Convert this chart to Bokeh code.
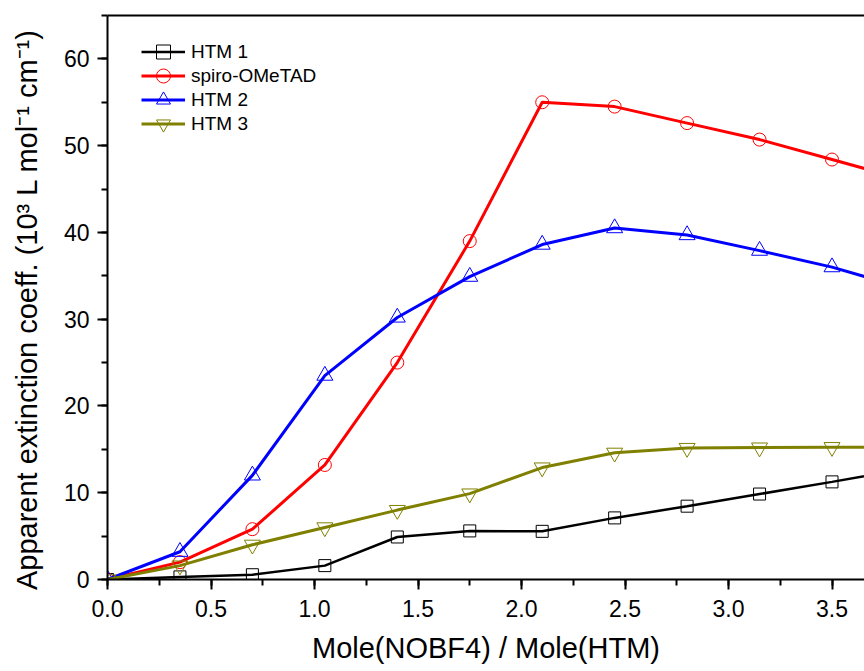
from bokeh.plotting import figure
from bokeh.models import (Range1d, LinearAxis, SingleIntervalTicker, NumeralTickFormatter,
                          FixedTicker, Legend, LegendItem)
from bokeh.embed import file_html
from bokeh.resources import INLINE

# ---- data ----
ratio = [0.0, 0.35, 0.70, 1.05, 1.40, 1.75, 2.10, 2.45, 2.80, 3.15, 3.50, 3.85]
htm1 = [0.0, 0.3, 0.55, 1.6, 4.9, 5.6, 5.55, 7.1, 8.45, 9.85, 11.25, 12.7]
spiro = [0.0, 2.0, 5.8, 13.2, 25.0, 39.0, 55.0, 54.5, 52.6, 50.7, 48.4, 46.1]
htm2 = [0.0, 3.2, 12.0, 23.5, 30.2, 34.9, 38.6, 40.5, 39.7, 37.9, 36.0, 33.6]
htm3 = [0.0, 1.6, 4.0, 6.0, 8.0, 9.9, 12.9, 14.6, 15.15, 15.2, 15.25, 15.2]
series_names = ["HTM 1", "spiro-OMeTAD", "HTM 2", "HTM 3"]
x_label = "Mole(NOBF4) / Mole(HTM)"
y_label = "Apparent extinction coeff. (10\u00b3 L mol\u207b\u00b9 cm\u207b\u00b9)"

FONT = "Liberation Sans"

p = figure(width=864, height=671, output_backend="svg", toolbar_location=None,
           x_range=Range1d(0, 3.657), y_range=Range1d(0, 65),
           min_border_left=107, min_border_right=0, min_border_top=15, min_border_bottom=92,
           x_axis_location=None, y_axis_location=None)
p.outline_line_color = None
p.xgrid.visible = False
p.ygrid.visible = False
p.background_fill_color = "white"
p.border_fill_color = "white"

xt = SingleIntervalTicker(interval=0.5, num_minor_ticks=2)
yt = SingleIntervalTicker(interval=10, num_minor_ticks=2)

def style(ax):
    ax.axis_line_width = 2
    ax.axis_line_color = "black"
    ax.major_tick_line_width = 2
    ax.minor_tick_line_width = 2
    ax.major_tick_line_color = "black"
    ax.minor_tick_line_color = "black"
    ax.major_label_text_font = FONT
    ax.major_label_text_font_size = "23px"
    ax.major_label_text_color = "black"
    ax.axis_label_text_font = FONT
    ax.axis_label_text_font_size = "29px"
    ax.axis_label_text_font_style = "normal"
    ax.axis_label_text_color = "black"

xa = LinearAxis(ticker=xt, formatter=NumeralTickFormatter(format="0.0"), axis_label=x_label)
style(xa)
xa.major_tick_out = 10
xa.major_tick_in = 0
xa.minor_tick_out = 6
xa.minor_tick_in = 0
xa.major_label_standoff = 10
xa.axis_label_standoff = 12
p.add_layout(xa, "below")

# trailing no-break spaces shift the (rotated) label down a little, as in the reference
ya = LinearAxis(ticker=yt, axis_label=y_label + "\u00a0" * 3)
style(ya)
ya.major_tick_out = 10
ya.major_tick_in = 0
ya.minor_tick_out = 6
ya.minor_tick_in = 0
ya.major_label_standoff = 8
ya.axis_label_standoff = 18
p.add_layout(ya, "left")

# top frame line (no ticks, no labels)
top = LinearAxis(ticker=FixedTicker(ticks=[]))
top.axis_line_width = 2
top.axis_line_color = "black"
top.major_tick_out = 0
top.major_tick_in = 0
top.minor_tick_out = 0
top.minor_tick_in = 0
top.major_label_standoff = 0
p.add_layout(top, "above")

colors = ["black", "#FF0000", "#0000FF", "#808000"]
markers = ["square", "circle", "triangle", "inverted_triangle"]
sizes = [12, 13, 16, 16]
widths = [2.5, 3, 3, 3]
ys = [htm1, spiro, htm2, htm3]

legend_rows_y = [510, 486, 462, 438]  # screen offsets of each legend row box
for name, yv, c, m, s, w, ly in zip(series_names, ys, colors, markers, sizes, widths, legend_rows_y):
    ln = p.line(ratio, yv, line_color=c, line_width=w)
    sc = p.scatter(ratio, yv, marker=m, size=s, line_color=c, fill_color=None, line_width=1)
    leg = Legend(items=[LegendItem(label=name, renderers=[ln, sc])], location=(34, ly))
    leg.border_line_color = None
    leg.background_fill_alpha = 0
    leg.padding = 0
    leg.margin = 0
    leg.spacing = 0
    leg.glyph_width = 44
    leg.glyph_height = 35
    leg.label_height = 35
    leg.label_standoff = 6
    leg.label_text_font = FONT
    leg.label_text_font_size = "19px"
    leg.label_text_color = "black"
    p.add_layout(leg, "center")

open("out.html", "w").write(file_html(p, INLINE))
